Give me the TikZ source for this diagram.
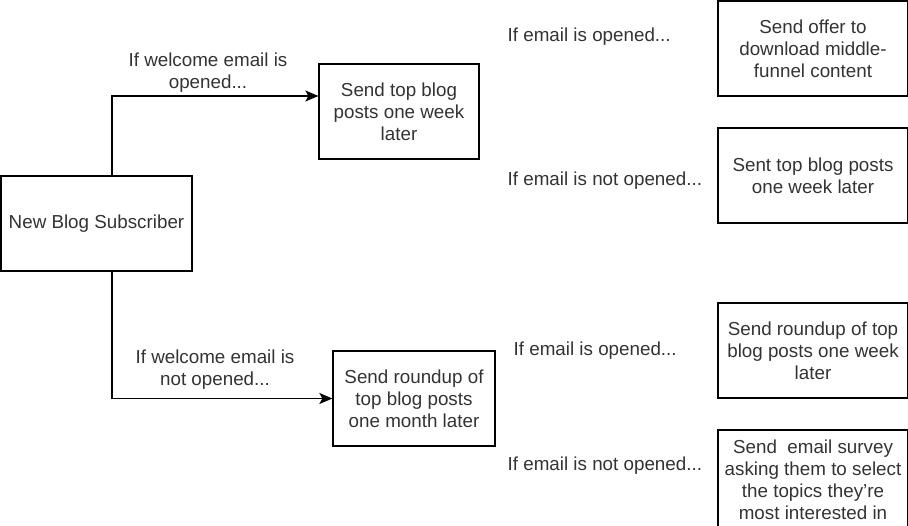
\documentclass[tikz,border=0pt]{standalone}
\usepackage{fontspec}
\setmainfont{Liberation Sans}
\usetikzlibrary{arrows.meta}
\begin{document}
\begin{tikzpicture}
  [x=1pt,y=-1pt,line width=1.3pt,
   every node/.style={font=\fontsize{18.8}{22}\selectfont,text=black!80,align=center,inner sep=0pt},
   box/.style={draw=black,minimum height=95pt},
   flow/.style={-{Stealth[length=13pt,width=11pt,inset=3pt]}}]
  \useasboundingbox (0,0) rectangle (908,525);

  \node[box,minimum width=191pt] (sub) at (96.5,223.5) {New Blog Subscriber};
  \node[box,minimum width=160pt] (top) at (399,111.5) {Send top blog\\posts one week\\later};
  \node[box,minimum width=162pt] (low) at (414,398.5) {Send roundup of\\top blog posts\\one month later};

  \node[box,minimum width=190pt] (r1) at (813,48.5) {Send offer to\\download middle-\\funnel content};
  \node[box,minimum width=190pt] (r2) at (813,175.5) {Sent top blog posts\\one week later};
  \node[box,minimum width=190pt] (r3) at (813,350.5) {Send roundup of top\\blog posts one week\\later};
  \node[box,minimum width=190pt,minimum height=100pt] (r4) at (813,480) {Send\ \ email survey\\asking them to select\\the topics they're\\most interested in};

  \node (w1) at (208,72.5) {If welcome email is\\opened...};
  \node (w2) at (215,369.5) {If welcome email is\\not opened...};
  \node[anchor=west] (o1) at (507,37) {If email is opened...};
  \node[anchor=west] (n1) at (507,181) {If email is not opened...};
  \node[anchor=west] (o2) at (513,351) {If email is opened...};
  \node[anchor=west] (n2) at (507,466) {If email is not opened...};

  \draw[flow] ([xshift=15.5pt]sub.north) |- ([yshift=15.5pt]top.west);
  \draw[flow] ([xshift=15.5pt]sub.south) |- (low.west);

\end{tikzpicture}
\end{document}
